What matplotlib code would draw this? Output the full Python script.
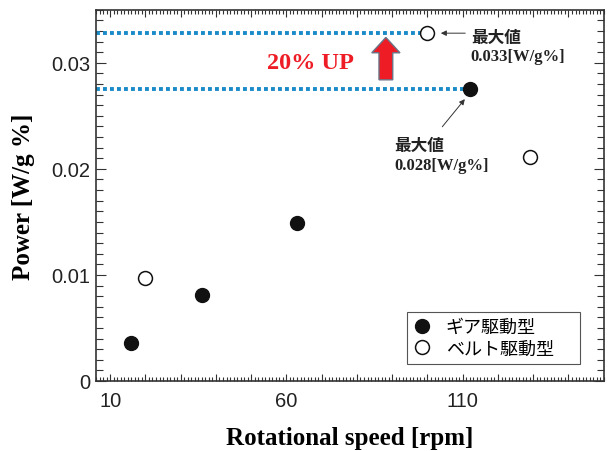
import matplotlib.pyplot as plt
from matplotlib.patches import FancyArrow
from matplotlib.ticker import MultipleLocator

# data
gear_speed = [16, 36, 63, 112]
gear_power = [0.0036, 0.0081, 0.0149, 0.0275]
belt_speed = [20, 100, 129]
belt_power = [0.0097, 0.0328, 0.0211]
gear_label = "ギア駆動型"
belt_label = "ベルト駆動型"
xtick_vals = [10, 60, 110]
ytick_vals = [0, 0.01, 0.02, 0.03]
ytick_text = ["0", "0.01", "0.02", "0.03"]

serif = "Liberation Serif"
sans = "Liberation Sans"
cjk = ["Noto Sans CJK JP", "DejaVu Sans"]

fig = plt.figure(figsize=(6.08, 4.52), dpi=100)
ax = fig.add_axes([0.158, 0.155, 0.835, 0.821])

xmin, xmax = 6, 150
ax.set_xlim(xmin, xmax)
ax.set_ylim(0, 0.035)

# dotted guide lines to the two maximum values
blue = "#1a8bc8"
ax.plot([xmin, belt_speed[1]], [belt_power[1]] * 2, color=blue, lw=2.8,
        dashes=(1, 0.8), zorder=2)
ax.plot([xmin, gear_speed[3]], [gear_power[3]] * 2, color=blue, lw=2.8,
        dashes=(1, 0.8), zorder=2)

ax.plot(gear_speed, gear_power, 'o', ms=10, mfc='#111111', mec='#111111',
        mew=1, label=gear_label, zorder=4)
ax.plot(belt_speed, belt_power, 'o', ms=10, mfc='white', mec='#111111',
        mew=1.1, label=belt_label, zorder=4)

# red up arrow
arr = FancyArrow(88.2, 0.0284, 0, 0.0040, width=3.9, head_width=8.0,
                 head_length=0.00145, length_includes_head=True,
                 fc='#ee1c25', ec='#6b7386', lw=1, zorder=3)
ax.add_patch(arr)
ax.text(66.9, 0.0300, "20% UP", color='#ee1c25', fontsize=17.5,
        fontweight='bold', family=serif, ha='center', va='center')

# annotations
ax.text(112.3, 0.03247, "最大値", family=cjk, fontweight='bold', fontsize=12,
        ha='left', va='center', color='#222222')
ax.text(112.3, 0.0306, "0.033[W/g%]", family=serif, fontweight='bold',
        fontsize=12, ha='left', va='center', color='#222222')
ax.annotate('', xy=(103.0, 0.0328), xytext=(111.5, 0.0328),
            arrowprops=dict(arrowstyle='-|>', color='#333333', lw=0.7,
                            mutation_scale=8))

ax.text(90.5, 0.0223, "最大値", family=cjk, fontweight='bold', fontsize=12,
        ha='left', va='center', color='#222222')
ax.text(90.5, 0.0204, "0.028[W/g%]", family=serif, fontweight='bold',
        fontsize=12, ha='left', va='center', color='#222222')
ax.annotate('', xy=(111.1, 0.02678), xytext=(103.7, 0.02377),
            arrowprops=dict(arrowstyle='-|>', color='#333333', lw=0.7,
                            mutation_scale=8))

# ticks
ax.set_xticks(list(range(10, 150, 10)))
ax.set_xticklabels([str(t) if t in xtick_vals else "" for t in range(10, 150, 10)])
ax.xaxis.set_minor_locator(MultipleLocator(1))
ax.set_yticks(ytick_vals)
ax.set_yticklabels(ytick_text)
ax.yaxis.set_minor_locator(MultipleLocator(0.001))
ax.tick_params(which='both', direction='in', top=True, right=True,
               color='#333333', width=0.8)
ax.tick_params(axis='x', which='major', length=5, pad=7)
ax.tick_params(axis='x', which='minor', length=3)
ax.tick_params(axis='y', which='major', length=7, pad=4)
ax.tick_params(axis='y', which='minor', length=5)
for lab in ax.get_xticklabels() + ax.get_yticklabels():
    lab.set_fontfamily(sans)
    lab.set_fontsize(14.5)
    lab.set_color('#222222')
for sp in ax.spines.values():
    sp.set_color('#333333')
    sp.set_linewidth(1.2)

ax.set_xlabel("Rotational speed [rpm]", family=serif, fontweight='bold',
              fontsize=18, labelpad=12)
ax.set_ylabel("Power [W/g %]", family=serif, fontweight='bold', fontsize=18,
              labelpad=12)

leg = ax.legend(loc='lower left', bbox_to_anchor=(0.612, 0.046, 0.341, 0.143),
                mode='expand', borderaxespad=0,
                prop={'family': cjk, 'size': 13},
                frameon=True, fancybox=False, framealpha=1, edgecolor='#555555',
                handlelength=1.0, handletextpad=0.8, borderpad=0.35,
                labelspacing=0.2)
leg.get_frame().set_linewidth(0.8)

fig.savefig("out.png", dpi=100)
